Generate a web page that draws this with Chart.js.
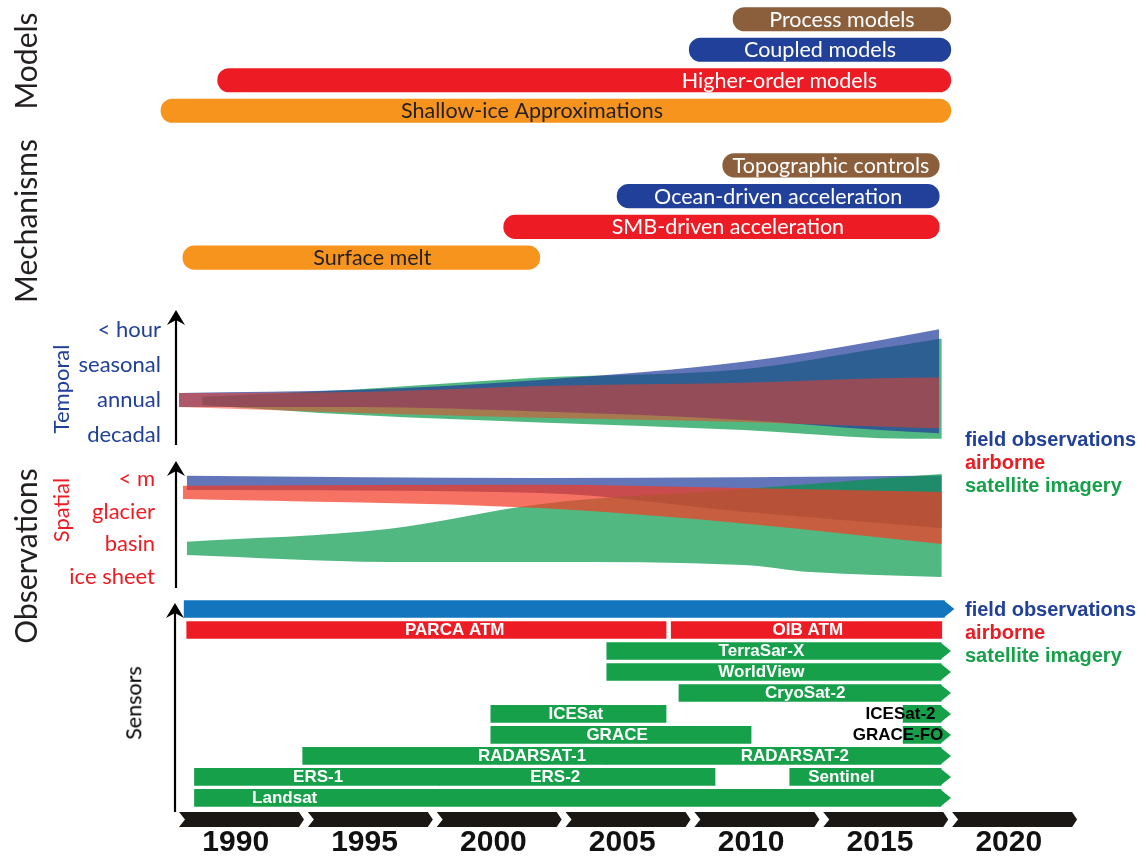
<!DOCTYPE html>
<html>
<head>
<meta charset="utf-8">
<title>Glacier research timeline</title>
<script src="https://cdn.jsdelivr.net/npm/chart.js@4.4.1/dist/chart.umd.min.js"></script>
<style>
  body { margin: 0; background: #fff; }
  #page { position: relative; width: 1146px; height: 856px; overflow: hidden; font-family: Lato, sans-serif; }
  #page canvas { position: absolute; left: 0; }
  .side { position: absolute; transform: translate(-50%, -50%) rotate(-90deg); white-space: nowrap; line-height: 1; }
  .legend { position: absolute; left: 965px; font: bold 20px "Liberation Sans", Arial, sans-serif; line-height: 23px; }
</style>
</head>
<body>
<div id="page">
  <canvas id="models" width="1146" height="122" style="top:4px"></canvas>
  <canvas id="mechanisms" width="1146" height="123" style="top:150px"></canvas>
  <canvas id="temporal" width="1146" height="142" style="top:306px"></canvas>
  <canvas id="spatial" width="1146" height="132" style="top:458px"></canvas>
  <canvas id="sensors" width="1146" height="220" style="top:594px"></canvas>
  <canvas id="years" width="1146" height="48" style="top:808px"></canvas>

  <div class="side" style="left:25px;top:61px;font-size:30px;color:#231f20">Models</div>
  <div class="side" style="left:25px;top:221px;font-size:30px;color:#231f20">Mechanisms</div>
  <div class="side" style="left:25px;top:556px;font-size:30px;color:#231f20">Observations</div>
  <div class="side" style="left:61px;top:389px;font-size:22px;color:#21409a">Temporal</div>
  <div class="side" style="left:61px;top:510px;font-size:22px;color:#ed1c24">Spatial</div>
  <div class="side" style="left:134px;top:703px;font-size:21.5px;color:#000">Sensors</div>

  <div class="legend" style="top:428px">
    <div style="color:#21409a">field observations</div>
    <div style="color:#ed1c24">airborne</div>
    <div style="color:#17a04a">satellite imagery</div>
  </div>
  <div class="legend" style="top:598px">
    <div style="color:#21409a">field observations</div>
    <div style="color:#ed1c24">airborne</div>
    <div style="color:#17a04a">satellite imagery</div>
  </div>
</div>

<script>
// ---- data (years) ----
const modelNames = ['Process models', 'Coupled models', 'Higher-order models', 'Shallow-ice Approximations'];
const modelStart = [2011.5, 2009.8, 1991.5, 1989.3];
const modelEnd = [2019.95, 2019.95, 2019.95, 2019.95];
const modelLabelAt = [null, null, 2013.3, 2003.7];

const mechanismNames = ['Topographic controls', 'Ocean-driven acceleration', 'SMB-driven acceleration', 'Surface melt'];
const mechanismStart = [2011.1, 2007.0, 2002.6, 1990.15];
const mechanismEnd = [2019.5, 2019.5, 2019.5, 2004.0];
const mechanismLabelAt = [null, null, 2011.3, 1997.5];

// temporal resolution: 0 decadal .. 3 < hour
const temporalTicks = ['decadal', 'annual', 'seasonal', '< hour'];
const fieldTYears = [1990.0, 1997.0, 2004.0, 2011.9, 2017.2, 2019.5];
const fieldTTop = [1.2, 1.29, 1.57, 2.09, 2.71, 3.02];
const fieldTBottom = [0.8, 0.8, 0.67, 0.43, 0.14, 0.05];
const satTYears = [1990.9, 1997.0, 2004.0, 2011.9, 2017.2, 2019.6];
const satTTop = [1.09, 1.31, 1.64, 1.88, 2.48, 2.76];
const satTBottom = [0.86, 0.57, 0.36, 0.14, -0.09, -0.11];
const airTYears = [1990.0, 1997.0, 2004.0, 2011.9, 2017.2, 2019.5];
const airTTop = [1.2, 1.23, 1.4, 1.49, 1.62, 1.64];
const airTBottom = [0.8, 0.63, 0.49, 0.37, 0.24, 0.19];

// spatial resolution: 0 ice sheet .. 3 < m
const spatialTicks = ['ice sheet', 'basin', 'glacier', '< m'];
const fieldSYears = [1990.3, 2004.0, 2011.9, 2019.6];
const fieldSTop = [3.1, 3.03, 3.05, 3.11];
const fieldSBottom = [2.66, 2.57, 2.0, 1.5];
const satSYears = [1990.3, 1998.1, 2004.0, 2011.9, 2014.5, 2019.6];
const satSTop = [1.08, 1.47, 2.23, 2.69, 2.85, 3.15];
const satSBottom = [0.67, 0.46, 0.46, 0.37, 0.15, 0.0];
const airSYears = [1990.15, 2004.0, 2011.9, 2019.6];
const airSTop = [2.79, 2.82, 2.72, 2.6];
const airSBottom = [2.39, 2.11, 1.64, 1.01];

// sensors
const sensorRows = ['field', 'airborne', 'TerraSar-X', 'WorldView', 'CryoSat-2', 'ICESat', 'GRACE', 'RADARSAT', 'ERS', 'Landsat'];
const sensorNames = ['', 'PARCA ATM', 'OIB ATM', 'TerraSar-X', 'WorldView', 'CryoSat-2', 'ICESat', 'ICESat-2',
  'GRACE', 'GRACE-FO', 'RADARSAT-1', 'RADARSAT-2', 'ERS-1', 'ERS-2', 'Sentinel', 'Landsat'];
const sensorRow = [0, 1, 1, 2, 3, 4, 5, 5, 6, 6, 7, 7, 8, 8, 8, 9];
const sensorStart = [1990.2, 1990.3, 2009.1, 2006.6, 2006.6, 2009.4, 2002.1, 2018.1,
  2002.1, 2018.1, 1994.8, 2006.6, 1990.6, 2000.1, 2013.7, 1990.6];
const sensorEnd = [2019.7, 2008.9, 2019.6, 2019.57, 2019.57, 2019.57, 2008.9, 2019.57,
  2012.2, 2019.57, 2006.6, 2019.57, 2000.1, 2010.8, 2019.57, 2019.57];
const sensorOngoing = [true, false, false, true, true, true, false, true, false, true, false, true, false, false, true, true];
const sensorLabelAt = [null, 2000.7, 2014.4, 2012.6, 2012.6, 2014.3, 2005.4, 2018.0,
  2007.0, 2017.9, 2003.7, 2013.9, 1995.4, 2004.6, 2015.7, 1994.1];

const axisYears = [1990, 1995, 2000, 2005, 2010, 2015, 2020];

// ---- page geometry and styles ----
const PX_1990 = 179, PX_PER_YEAR = 25.77, PAGE_W = 1146, AXIS_PX = 176;
const BAR_FILL = ['#8b5e3c', '#21409a', '#ed1c24', '#f7941d'];
const BAR_INK = ['#fff', '#fff', '#fff', '#231f20'];
const KIND_FILL = ['#1375be', '#ed1c24', '#17a04a']; // field, airborne, satellite
const DARK_LABELS = ['ICESat-2', 'GRACE-FO'];
const BAND_BLUE = 'rgba(31,59,154,0.7)';
const BAND_GREEN = 'rgba(0,150,70,0.68)';

function yearAt(px) { return 1990 + (px - PX_1990) / PX_PER_YEAR; }
function timeAxis(leftPx) {
  return { type: 'linear', display: false, min: yearAt(leftPx), max: yearAt(PAGE_W) };
}

Chart.defaults.animation = false;
Chart.defaults.responsive = false;
Chart.defaults.font.family = 'Lato, sans-serif';
Chart.defaults.plugins.legend.display = false;
Chart.defaults.plugins.tooltip.enabled = false;

const barText = {
  id: 'barText',
  afterDatasetsDraw(chart, args, o) {
    const ctx = chart.ctx, x = chart.scales.x;
    ctx.save();
    ctx.font = o.font;
    ctx.textAlign = 'center';
    ctx.textBaseline = 'middle';
    chart.getDatasetMeta(0).data.forEach((bar, i) => {
      if (!o.text[i]) return;
      const cx = o.at[i] == null ? (bar.x + bar.base) / 2 : x.getPixelForValue(o.at[i]);
      ctx.fillStyle = o.ink(i);
      ctx.fillText(o.text[i], cx, bar.y + 0.5);
    });
    ctx.restore();
  }
};

const arrowHeads = {
  id: 'arrowHeads',
  afterDatasetsDraw(chart) {
    const ctx = chart.ctx;
    chart.getDatasetMeta(0).data.forEach((bar, i) => {
      if (!sensorOngoing[i]) return;
      const h = bar.height / 2;
      ctx.fillStyle = bar.options.backgroundColor;
      ctx.beginPath();
      ctx.moveTo(bar.x - 0.5, bar.y - h);
      ctx.lineTo(bar.x + 10, bar.y);
      ctx.lineTo(bar.x - 0.5, bar.y + h);
      ctx.closePath();
      ctx.fill();
    });
  }
};

const yArrow = {
  id: 'yArrow',
  afterDraw(chart, args, o) {
    const ctx = chart.ctx;
    ctx.save();
    ctx.strokeStyle = ctx.fillStyle = '#000';
    ctx.lineWidth = 2.2;
    ctx.beginPath();
    ctx.moveTo(o.x, o.bottom);
    ctx.lineTo(o.x, o.top + 8);
    ctx.stroke();
    ctx.beginPath();
    ctx.moveTo(o.x, o.top);
    ctx.lineTo(o.x + 9, o.top + 15);
    ctx.lineTo(o.x, o.top + 10);
    ctx.lineTo(o.x - 9, o.top + 15);
    ctx.closePath();
    ctx.fill();
    ctx.restore();
  }
};

const chevrons = {
  id: 'chevrons',
  beforeDraw(chart, args, o) {
    const x = chart.scales.x, ctx = chart.ctx;
    const t = o.top, m = o.top + o.h / 2, b = o.top + o.h;
    ctx.save();
    ctx.fillStyle = '#1a1715';
    axisYears.forEach(yr => {
      const a = x.getPixelForValue(yr), e = x.getPixelForValue(yr + 4.85);
      ctx.beginPath();
      ctx.moveTo(a, t);
      ctx.lineTo(e - 5, t);
      ctx.lineTo(e, m);
      ctx.lineTo(e - 5, b);
      ctx.lineTo(a, b);
      ctx.lineTo(a + 6, m);
      ctx.closePath();
      ctx.fill();
    });
    ctx.restore();
  }
};

function rangeChart(id, names, starts, ends, labelAt) {
  return new Chart(document.getElementById(id), {
    type: 'bar',
    data: {
      labels: names,
      datasets: [{
        data: starts.map((s, i) => [s, ends[i]]),
        backgroundColor: BAR_FILL,
        borderRadius: 12,
        borderSkipped: false,
        barThickness: 23.5
      }]
    },
    options: {
      indexAxis: 'y',
      scales: { x: timeAxis(0), y: { display: false } },
      plugins: {
        barText: { text: names, at: labelAt, font: '21.5px Lato', ink: i => BAR_INK[i] }
      }
    },
    plugins: [barText]
  });
}

rangeChart('models', modelNames, modelStart, modelEnd, modelLabelAt);
rangeChart('mechanisms', mechanismNames, mechanismStart, mechanismEnd, mechanismLabelAt);

function bandSets(years, top, bottom, colour, order) {
  const pts = vals => years.map((x, i) => ({ x, y: vals[i] }));
  const common = { borderColor: 'transparent', borderWidth: 0, pointRadius: 0, cubicInterpolationMode: 'monotone', order };
  return [
    { ...common, data: pts(bottom), fill: false },
    { ...common, data: pts(top), fill: '-1', backgroundColor: colour }
  ];
}

function levelAxis(names, min, max, colour, pad) {
  return {
    type: 'linear', min, max,
    afterFit: s => { s.width = AXIS_PX; s.paddingTop = 0; s.paddingBottom = 0; },
    afterBuildTicks: s => { s.ticks = names.map((n, v) => ({ value: v })); },
    grid: { display: false, drawTicks: false },
    border: { display: false },
    ticks: { autoSkip: false, padding: pad, color: colour, font: { size: 22 }, callback: v => names[v] }
  };
}

new Chart(document.getElementById('temporal'), {
  type: 'line',
  data: {
    datasets: [
      ...bandSets(satTYears, satTTop, satTBottom, BAND_GREEN, 3),
      ...bandSets(fieldTYears, fieldTTop, fieldTBottom, BAND_BLUE, 2),
      ...bandSets(airTYears, airTTop, airTBottom, 'rgba(250,60,30,0.5)', 1)
    ]
  },
  options: {
    scales: { x: timeAxis(AXIS_PX), y: levelAxis(temporalTicks, -0.371, 3.686, '#21409a', 15) },
    plugins: { yArrow: { x: 176, top: 4, bottom: 139 } }
  },
  plugins: [yArrow]
});

new Chart(document.getElementById('spatial'), {
  type: 'line',
  data: {
    datasets: [
      ...bandSets(fieldSYears, fieldSTop, fieldSBottom, BAND_BLUE, 3),
      ...bandSets(satSYears, satSTop, satSBottom, BAND_GREEN, 2),
      ...bandSets(airSYears, airSTop, airSBottom, 'rgba(242,60,38,0.72)', 1)
    ]
  },
  options: {
    scales: { x: timeAxis(AXIS_PX), y: levelAxis(spatialTicks, -0.398, 3.642, '#ed1c24', 21) },
    plugins: { yArrow: { x: 176, top: 3, bottom: 130 } }
  },
  plugins: [yArrow]
});

new Chart(document.getElementById('sensors'), {
  type: 'bar',
  data: {
    labels: sensorRows,
    datasets: [{
      data: sensorStart.map((s, i) => ({ x: [s, sensorEnd[i]], y: sensorRows[sensorRow[i]] })),
      backgroundColor: ctx => KIND_FILL[Math.min(sensorRow[ctx.dataIndex], 2)],
      barThickness: 17,
      borderSkipped: false
    }]
  },
  options: {
    indexAxis: 'y',
    layout: { padding: { top: 4.5, bottom: 5.6 } },
    scales: { x: timeAxis(0), y: { display: false } },
    plugins: {
      barText: {
        text: sensorNames, at: sensorLabelAt, font: 'bold 17px "Liberation Sans", Arial, sans-serif',
        ink: i => DARK_LABELS.includes(sensorNames[i]) ? '#000' : '#fff'
      },
      yArrow: { x: 175, top: 9, bottom: 218 }
    }
  },
  plugins: [arrowHeads, barText, yArrow]
});

new Chart(document.getElementById('years'), {
  type: 'scatter',
  data: { datasets: [] },
  options: {
    scales: {
      x: {
        type: 'linear', min: yearAt(0), max: yearAt(PAGE_W),
        afterFit: s => { s.height = 31.4; s.paddingLeft = 0; s.paddingRight = 0; },
        afterBuildTicks: s => { s.ticks = axisYears.map(y => ({ value: y + 2.2 })); },
        grid: { display: false, drawTicks: false },
        border: { display: false },
        ticks: {
          autoSkip: false, maxRotation: 0, padding: 0, color: '#111',
          font: { family: '"Liberation Sans", Arial, sans-serif', size: 30, weight: 'bold' },
          callback: v => String(Math.round(v - 2.2))
        }
      },
      y: { display: false }
    },
    plugins: { chevrons: { top: 4, h: 15 } }
  },
  plugins: [chevrons]
});
</script>
</body>
</html>
